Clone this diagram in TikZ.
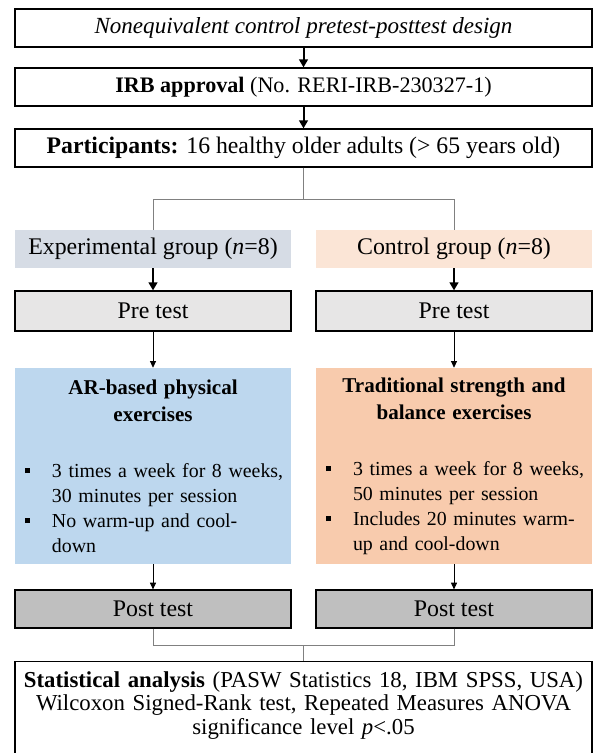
\documentclass[tikz,border=0pt]{standalone}
\usepackage{fontspec}
\setmainfont{Liberation Serif}
\usetikzlibrary{arrows.meta}
\definecolor{grpblue}{RGB}{214,220,229}
\definecolor{grporange}{RGB}{251,229,214}
\definecolor{pregray}{RGB}{231,230,230}
\definecolor{exblue}{RGB}{189,215,238}
\definecolor{exorange}{RGB}{248,203,173}
\definecolor{postgray}{RGB}{191,191,191}
\definecolor{linkgray}{RGB}{128,128,128}
\newcommand{\sq}{\makebox[27.75pt][l]{\hspace{7.5pt}\rule[3pt]{4pt}{4pt}}}
\newcommand{\hang}{\hspace*{27.75pt}}

\begin{document}
\begin{tikzpicture}[x=0.75pt,y=-0.75pt]
      \useasboundingbox (0,0) rectangle (593,753);
      \tikzstyle{wide}=[draw,line width=0.9pt,minimum width=577*0.75pt,minimum height=28.5pt,inner sep=0pt]
      \tikzstyle{half}=[minimum width=207pt,minimum height=28.5pt,inner sep=0pt,font=\fontsize{17.9}{20}\selectfont]
      \tikzstyle{exbox}=[minimum width=207pt,minimum height=147pt,text width=207pt,inner xsep=0pt,align=left,font=\fontsize{14.9}{18.75}\selectfont]
      \tikzstyle{bigarrow}=[line width=1.5pt,-{Triangle[length=6pt,width=6.5pt]}]
      \tikzstyle{smallarrow}=[line width=0.6pt,-{Triangle[length=5pt,width=4.5pt]}]
      \tikzstyle{split}=[linkgray,line width=0.75pt]
      \node [wide,font=\fontsize{17.3}{20}\selectfont] (design) at (303.5,28) {\textit{Nonequivalent control pretest-posttest design}};
      \node [wide,font=\fontsize{16.6}{20}\selectfont] (irb) at (303.5,87) {\textbf{IRB approval} (No. RERI-IRB-230327-1)};
      \node [wide,font=\fontsize{17.8}{20}\selectfont] (part) at (303.5,148) {\textbf{Participants:} 16 healthy older adults (> 65 years old)};
      \node [half,fill=grpblue] (expg) at (153,249) {Experimental group (\textit{n}=8)};
      \node [half,fill=grporange] (ctrlg) at (454,249) {Control group (\textit{n}=8)};
      \node [half,draw,line width=0.9pt,fill=pregray,minimum height=30pt] (preE) at (153,311) {Pre test};
      \node [half,draw,line width=0.9pt,fill=pregray,minimum height=30pt] (preC) at (454,311) {Pre test};
      \node [exbox,fill=exblue] (exE) at (153,466) {{\centering\bfseries\fontsize{15.8}{20.25}\selectfont AR-based physical\\exercises\par}\vspace{23.25pt}
        \sq 3 times a week for 8 weeks,\\\hang 30 minutes per session\\\sq No warm-up and cool-\\\hang down};
      \node [exbox,fill=exorange] (exC) at (454,466) {{\centering\bfseries\fontsize{15.8}{20.25}\selectfont Traditional strength and\\balance exercises\par}\vspace{23.25pt}
        \sq 3 times a week for 8 weeks,\\\hang 50 minutes per session\\\sq Includes 20 minutes warm-\\\hang up and cool-down};
      \node [half,draw,line width=0.9pt,fill=postgray] (postE) at (153,609) {Post test};
      \node [half,draw,line width=0.9pt,fill=postgray] (postC) at (454,609) {Post test};
      \node [draw,line width=0.9pt,anchor=north,text width=577*0.75pt,inner xsep=0pt,inner ysep=7.5pt,align=center,font=\fontsize{17.1}{17.6}\selectfont] (stat) at (303.5,661)
        {\textbf{Statistical analysis} (PASW Statistics 18, IBM SPSS, USA)\\Wilcoxon Signed-Rank test, Repeated Measures ANOVA\\significance level \textit{p}<.05\rule[-30pt]{0pt}{0pt}};
      \draw [bigarrow] (design) -- (irb);
      \draw [bigarrow] (irb) -- (part);
      \draw [split] (part.south) -- ++(0,32) -| (expg.north);
      \draw [split] (part.south) -- ++(0,32) -| (ctrlg.north);
      \draw [bigarrow] (expg) -- (preE);
      \draw [bigarrow] (ctrlg) -- (preC);
      \draw [smallarrow] (preE) -- (exE);
      \draw [smallarrow] (preC) -- (exC);
      \draw [smallarrow] (exE) -- (postE);
      \draw [smallarrow] (exC) -- (postC);
      \draw [split] (postE.south) -- ++(0,17) -| (stat.north);
      \draw [split] (postC.south) -- ++(0,17) -| (stat.north);
\end{tikzpicture}
\end{document}
